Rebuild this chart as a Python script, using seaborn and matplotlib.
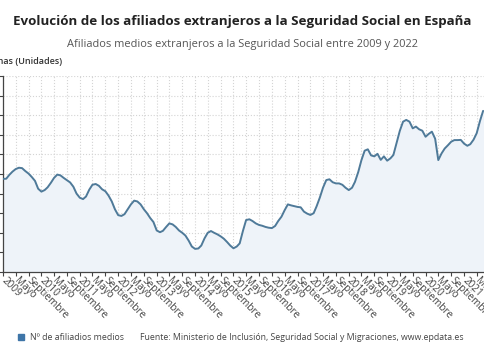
import pandas as pd
import numpy as np
import matplotlib.pyplot as plt
import matplotlib.dates as mdates
from matplotlib.lines import Line2D
import seaborn as sns

# Afiliados medios extranjeros (millones), mensual desde enero 2009
afiliados_2009 = [1.875, 1.876, 1.895, 1.912, 1.925, 1.932, 1.930, 1.915, 1.902, 1.885, 1.865, 1.825]
afiliados_2010 = [1.810, 1.818, 1.832, 1.855, 1.880, 1.897, 1.893, 1.880, 1.868, 1.857, 1.835, 1.800]
afiliados_2011 = [1.779, 1.772, 1.785, 1.820, 1.845, 1.849, 1.840, 1.822, 1.812, 1.790, 1.760, 1.720]
afiliados_2012 = [1.690, 1.686, 1.695, 1.720, 1.745, 1.764, 1.760, 1.745, 1.720, 1.700, 1.675, 1.655]
afiliados_2013 = [1.612, 1.603, 1.610, 1.630, 1.648, 1.643, 1.630, 1.612, 1.600, 1.586, 1.560, 1.530]
afiliados_2014 = [1.518, 1.520, 1.535, 1.572, 1.600, 1.609, 1.600, 1.592, 1.582, 1.570, 1.553, 1.535]
afiliados_2015 = [1.521, 1.530, 1.546, 1.610, 1.665, 1.669, 1.660, 1.648, 1.640, 1.636, 1.630, 1.626]
afiliados_2016 = [1.624, 1.635, 1.660, 1.682, 1.715, 1.745, 1.740, 1.736, 1.732, 1.730, 1.708, 1.698]
afiliados_2017 = [1.691, 1.700, 1.735, 1.780, 1.830, 1.869, 1.873, 1.858, 1.852, 1.852, 1.845, 1.830]
afiliados_2018 = [1.818, 1.830, 1.860, 1.910, 1.970, 2.019, 2.026, 1.995, 1.990, 2.003, 1.972, 1.990]
afiliados_2019 = [1.968, 1.980, 1.997, 2.060, 2.120, 2.167, 2.176, 2.167, 2.133, 2.142, 2.128, 2.121]
afiliados_2020 = [2.090, 2.105, 2.116, 2.080, 1.971, 2.005, 2.030, 2.047, 2.065, 2.073, 2.073, 2.074]
afiliados_2021 = [2.055, 2.044, 2.052, 2.075, 2.108, 2.170, 2.222]

afiliados = (afiliados_2009 + afiliados_2010 + afiliados_2011 + afiliados_2012 +
             afiliados_2013 + afiliados_2014 + afiliados_2015 + afiliados_2016 +
             afiliados_2017 + afiliados_2018 + afiliados_2019 + afiliados_2020 +
             afiliados_2021)

fechas = pd.date_range('2009-01-01', periods=len(afiliados), freq='MS')
df = pd.DataFrame({'fecha': fechas, 'afiliados': np.array(afiliados) * 1e6})

meses = {1: None, 5: 'Mayo', 9: 'Septiembre'}

sns.set_style('white')
plt.rcParams['font.family'] = ['Open Sans', 'DejaVu Sans']

fig = plt.figure(figsize=(4.85, 3.6), dpi=100)
ax = fig.add_axes([3 / 485, 1 - 272 / 360, 1 - 3 / 485, (272 - 76) / 360])

ax.fill_between(df['fecha'], df['afiliados'], 1.4e6, color='#eef3f9', zorder=1)
sns.lineplot(data=df, x='fecha', y='afiliados', color='#4f7a99', linewidth=1.4, ax=ax, zorder=3)

ax.set_ylim(1.4e6, 2.4e6)
ax.set_xlim(df['fecha'].iloc[0], df['fecha'].iloc[-1] + pd.Timedelta(days=18))
ax.yaxis.set_major_locator(plt.MultipleLocator(1e5))
ax.set_yticklabels([])

ax.xaxis.set_major_locator(mdates.MonthLocator(bymonth=[1, 5, 9]))


def etiqueta(x, pos):
    d = mdates.num2date(x)
    return str(d.year) if d.month == 1 else meses[d.month]


ax.xaxis.set_major_formatter(plt.FuncFormatter(etiqueta))
for lab in ax.get_xticklabels():
    lab.set_rotation(-45)
    lab.set_ha('left')
    lab.set_va('center')
    lab.set_rotation_mode('anchor')
ax.tick_params(axis='x', labelsize=7.2, colors='#444444', length=3, width=0.8, pad=2, direction='out')
ax.tick_params(axis='y', length=3, width=0.8, direction='out', colors='#444444')
ax.xaxis.set_tick_params(bottom=True)
ax.yaxis.set_tick_params(left=True)

ax.grid(True, which='major', axis='both', color='#d4d4d4', linestyle=':', linewidth=0.8)
ax.set_axisbelow(True)
for s in ['top', 'right']:
    ax.spines[s].set_visible(False)
for s in ['left', 'bottom']:
    ax.spines[s].set_color('#444444')
    ax.spines[s].set_linewidth(0.9)
ax.set_xlabel('')
ax.set_ylabel('')

fig.text(0.5, 1 - 22 / 360, 'Evolución de los afiliados extranjeros a la Seguridad Social en España',
         ha='center', va='center', fontsize=9.6, fontweight='bold', color='#222222')
fig.text(0.5, 1 - 44 / 360, 'Afiliados medios extranjeros a la Seguridad Social entre 2009 y 2022',
         ha='center', va='center', fontsize=7.9, color='#555555')
fig.text(-27 / 485, 1 - 62 / 360, 'Personas (Unidades)', ha='left', va='center',
         fontsize=6.5, fontweight='semibold', color='#333333')

marca = Line2D([], [], marker='s', color='#3e75a8', linestyle='none', markersize=4.5)
fig.legend(handles=[marca], labels=['Nº de afiliadios medios'], loc='center left',
           bbox_to_anchor=(12 / 485, 1 - 338 / 360), frameon=False, fontsize=6.3,
           handletextpad=0.1, labelcolor='#444444', borderaxespad=0, borderpad=0)
fig.text(140 / 485, 1 - 338 / 360,
         'Fuente: Ministerio de Inclusión, Seguridad Social y Migraciones, www.epdata.es',
         ha='left', va='center', fontsize=6.3, color='#444444')

fig.savefig('out.png', dpi=100)
